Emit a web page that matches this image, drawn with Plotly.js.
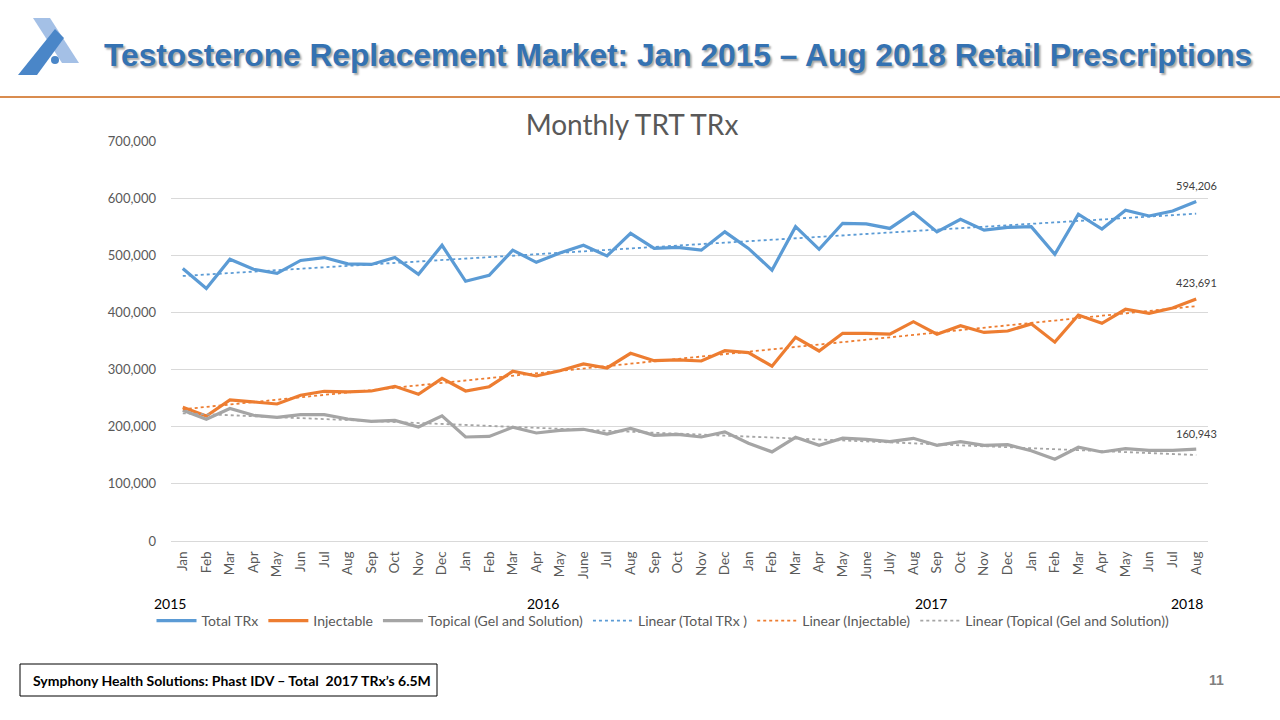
<!DOCTYPE html>
<html><head><meta charset="utf-8">
<script src="https://cdn.plot.ly/plotly-3.0.1.min.js"></script>
<style>html,body{margin:0;padding:0;background:#fff}#chart{width:1280px;height:720px}</style>
</head><body><div id="chart"></div>
<script>
const months = ["Jan","Feb","Mar","Apr","May","Jun","Jul","Aug","Sep","Oct","Nov","Dec",
"Jan","Feb","Mar","Apr","May","June","Jul","Aug","Sep","Oct","Nov","Dec",
"Jan","Feb","Mar","Apr","May","June","July","Aug","Sep","Oct","Nov","Dec",
"Jan","Feb","Mar","Apr","May","Jun","Jul","Aug"];
const years = ["2015","2016","2017","2018"];
const totalTRx = [477000,442000,493000,475500,468500,491000,496000,485000,484000,496000,466700,517500,
454500,465000,509000,487700,504000,517500,499000,538500,512000,514000,509000,541000,
512000,474000,550000,510500,556000,555000,547000,575000,541000,563000,544000,549000,
550000,501700,572000,546000,578700,568800,577500,594206];
const injectable = [234000,218800,246800,243000,239800,255000,262000,260800,262500,270700,256700,284700,
262500,270000,297000,288800,298000,309800,302800,328500,315600,316800,315000,333000,
329600,306000,356500,332500,363500,363500,362000,383800,362000,376800,365000,367500,
380000,348000,395500,381000,405500,398500,407800,423691];
const topical = [229000,213000,232000,220000,216500,221000,221000,213500,209500,211000,199500,219000,
182000,183000,199000,189000,193700,195500,187000,197000,185000,186700,182000,191000,
171000,156000,181500,167500,180000,178000,173800,179700,167500,173800,167500,168500,
158000,143000,164000,155800,161500,158700,158700,160943];
// trendline end points (Jan 2015, Aug 2018)
const trendTotal = [463800, 572800];
const trendInjectable = [230500, 411000];
const trendTopical = [223500, 150500];

const seriesNames = ["Total TRx","Injectable","Topical (Gel and Solution)"];
const trendNames = ["Linear (Total TRx )","Linear (Injectable)","Linear (Topical (Gel and Solution))"];
const colors = ["#5B9BD5","#ED7D31","#A5A5A5"];

const idx = months.map((m,i)=>i);
const trendX = [0, months.length-1];

const L=171,R=1208,T=141,B=541;
const px = x => (x-L)/(R-L);
const py = y => (B-y)/(B-T);

const FONT = "Lato, 'Open Sans', sans-serif";
const series = [totalTRx, injectable, topical];
const trends = [trendTotal, trendInjectable, trendTopical];

const traces = [];
series.forEach((s,i)=>traces.push({x:idx,y:s,type:'scatter',mode:'lines',name:seriesNames[i],
  line:{color:colors[i],width:3.2},hoverinfo:'skip'}));
trends.forEach((t,i)=>traces.push({x:trendX,y:t,type:'scatter',mode:'lines',name:trendNames[i],
  line:{color:colors[i],width:1.8,dash:'dot'},hoverinfo:'skip'}));

const yearPx = [170,543,931,1187];
const annotations = [];
annotations.push({xref:'paper',yref:'paper',x:px(102),y:py(55),xanchor:'left',yanchor:'middle',showarrow:false,
  text:"Testosterone Replacement Market: Jan 2015 – Aug 2018 Retail Prescriptions",
  font:{family:"'Liberation Sans', Arial, sans-serif",size:31.7,weight:'bold',color:'#3472B2',shadow:'2px 2px 2px rgba(0,0,0,0.35)'}});
annotations.push({xref:'paper',yref:'paper',x:px(31),y:py(680),xanchor:'left',yanchor:'middle',showarrow:false,
  text:"Symphony Health Solutions: Phast IDV – Total  2017 TRx’s 6.5M",
  font:{family:FONT,size:14,weight:'bold',color:'#000000'}});
annotations.push({xref:'paper',yref:'paper',x:px(1216),y:py(680),xanchor:'center',yanchor:'middle',showarrow:false,
  text:"11",font:{family:"'Liberation Sans', Arial, sans-serif",size:14,weight:'bold',color:'#808080'}});
years.forEach((yv,i)=>annotations.push({xref:'paper',yref:'paper',x:px(yearPx[i]),y:py(603),xanchor:'center',yanchor:'middle',
  showarrow:false,text:yv,font:{family:FONT,size:14,color:'#000000'}}));
series.forEach((s,i)=>{
  const last = s.length-1;
  annotations.push({xref:'x',yref:'y',x:last,y:s[last],yshift:16,xanchor:'center',yanchor:'middle',showarrow:false,
    text:s[last].toLocaleString('en-US'),font:{family:FONT,size:11,color:'#404040'}});
});

const p = (pts)=> 'M' + pts.map(q=>px(q[0])+','+py(q[1])).join(' L') + ' Z';
const shapes = [
  {type:'path',xref:'paper',yref:'paper',path:p([[33,18],[50,18],[79,63],[62,63]]),fillcolor:'#A4C0E6',line:{width:0},layer:'above'},
  {type:'path',xref:'paper',yref:'paper',path:p([[18,75],[37,75],[64,38],[55,29]]),fillcolor:'#4A86C8',line:{width:0},layer:'above'},
  {type:'circle',xref:'paper',yref:'paper',x0:px(51),x1:px(59),y0:py(64),y1:py(56),fillcolor:'#4A86C8',line:{width:0},layer:'above'},
  {type:'line',xref:'paper',yref:'paper',x0:px(0),x1:px(1280),y0:py(97),y1:py(97),line:{color:'#D98C4F',width:2},layer:'above'},
  {type:'rect',xref:'paper',yref:'paper',x0:px(20),x1:px(437),y0:py(696),y1:py(664),line:{color:'#000000',width:1},layer:'above'}
];

const layout = {
  width:1280,height:720,
  margin:{l:L,r:1280-R,t:T,b:720-B,pad:0},
  paper_bgcolor:'#ffffff',plot_bgcolor:'#ffffff',
  font:{family:FONT,color:'#595959'},
  title:{text:'Monthly TRT TRx',x:632/1280,xanchor:'center',y:1-125/720,yanchor:'middle',yref:'container',
    font:{family:FONT,size:28,color:'#595959'}},
  showlegend:true,
  legend:{orientation:'h',x:px(663),xanchor:'center',y:py(621),yanchor:'middle',
    font:{family:FONT,size:14,color:'#595959'},itemwidth:40,traceorder:'normal',bgcolor:'rgba(0,0,0,0)'},
  xaxis:{range:[-0.5,months.length-0.5],tickmode:'array',tickvals:idx,ticktext:months,tickangle:-90,
    showgrid:false,zeroline:false,showline:true,linecolor:'#D9D9D9',linewidth:1,ticks:'',
    tickfont:{family:FONT,size:13.5,color:'#595959'},ticklabelstandoff:4,fixedrange:true},
  yaxis:{range:[0,700000],dtick:100000,tickformat:',d',showgrid:true,gridcolor:'#D9D9D9',gridwidth:1,
    zeroline:false,showline:false,ticks:'',tickfont:{family:FONT,size:13,color:'#595959'},ticklabelstandoff:14,fixedrange:true},
  annotations:annotations,
  shapes:shapes,
  hovermode:false
};
Plotly.newPlot('chart',traces,layout,{displayModeBar:false,staticPlot:true});
</script></body></html>
